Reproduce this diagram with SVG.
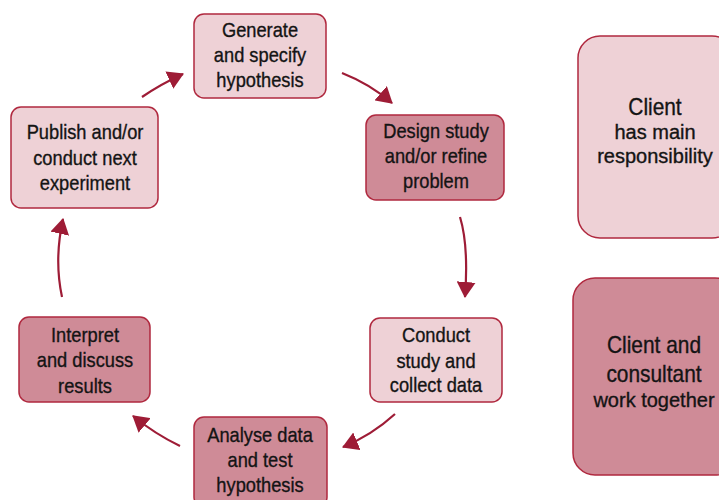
<svg xmlns="http://www.w3.org/2000/svg" width="719" height="500" viewBox="0 0 719 500">
<style>
.light{fill:#EED1D6;stroke:#B0293F;stroke-width:1.5}
.dark{fill:#CF8B97;stroke:#B0293F;stroke-width:1.5}
text{font-family:"Liberation Sans",Arial,sans-serif;font-size:21px;fill:#141414;stroke:#141414;stroke-width:0.35;text-anchor:middle}
.small{font-size:20px}
.big{font-size:24px}
.conn path{fill:none;stroke:#9E1C36;stroke-width:2.2;marker-end:url(#ah)}
</style>
<defs>
<marker id="ah" viewBox="0 0 16 19" refX="15" refY="9.5" markerWidth="16" markerHeight="19" markerUnits="userSpaceOnUse" orient="auto">
<path d="M0,0 L16,9.5 L0,19 z" fill="#9E1C36"/>
</marker>
</defs>
<rect width="719" height="500" fill="#fff"/>
<g id="generate">
<rect class="light" x="194" y="14" width="132" height="84" rx="10"/>
<text transform="translate(260,37) scale(0.87,1)">Generate</text>
<text transform="translate(260,62) scale(0.87,1)">and specify</text>
<text transform="translate(260,87) scale(0.87,1)">hypothesis</text>
</g>
<g id="design">
<rect class="dark" x="366" y="115" width="138" height="85" rx="10"/>
<text transform="translate(436,138) scale(0.87,1)">Design study</text>
<text transform="translate(436,163) scale(0.87,1)">and/or refine</text>
<text transform="translate(436,188) scale(0.87,1)">problem</text>
</g>
<g id="conduct">
<rect class="light" x="370" y="318" width="132" height="84" rx="10"/>
<text transform="translate(436,342) scale(0.87,1)">Conduct</text>
<text transform="translate(436,368) scale(0.87,1)">study and</text>
<text transform="translate(436,392) scale(0.87,1)">collect data</text>
</g>
<g id="analyse">
<rect class="dark" x="194" y="417" width="133" height="90" rx="10"/>
<text transform="translate(260,442) scale(0.87,1)">Analyse data</text>
<text transform="translate(260,467) scale(0.87,1)">and test</text>
<text transform="translate(260,492) scale(0.87,1)">hypothesis</text>
</g>
<g id="interpret">
<rect class="dark" x="19" y="317" width="131" height="85" rx="10"/>
<text transform="translate(85,342) scale(0.87,1)">Interpret</text>
<text transform="translate(85,367) scale(0.87,1)">and discuss</text>
<text transform="translate(85,393) scale(0.87,1)">results</text>
</g>
<g id="publish">
<rect class="light" x="11" y="107" width="147" height="101" rx="10"/>
<text transform="translate(85,139) scale(0.87,1)">Publish and/or</text>
<text transform="translate(85,165) scale(0.87,1)">conduct next</text>
<text transform="translate(85,190) scale(0.87,1)">experiment</text>
</g>
<g id="legend-client">
<rect class="light" x="578" y="36" width="156" height="202" rx="22"/>
<text class="big" transform="translate(655,115) scale(0.87,1)">Client</text>
<text class="small" x="655" y="139">has main</text>
<text class="small" x="655" y="163">responsibility</text>
</g>
<g id="legend-both">
<rect class="dark" x="573" y="278" width="164" height="197" rx="22"/>
<text class="big" transform="translate(654,353) scale(0.87,1)">Client and</text>
<text class="big" transform="translate(654,382) scale(0.87,1)">consultant</text>
<text class="small" x="654" y="407">work together</text>
</g>
<g class="conn" id="connectors">
<path d="M142,97 Q161,84 183,74"/>
<path d="M342,73 Q370,84 392,103"/>
<path d="M460,217 C467,240 467,270 465,297"/>
<path d="M395,414 Q372,435 343,447"/>
<path d="M180,446 Q155,434 133,416"/>
<path d="M62,297 Q54,260 63,219"/>
</g>
</svg>
